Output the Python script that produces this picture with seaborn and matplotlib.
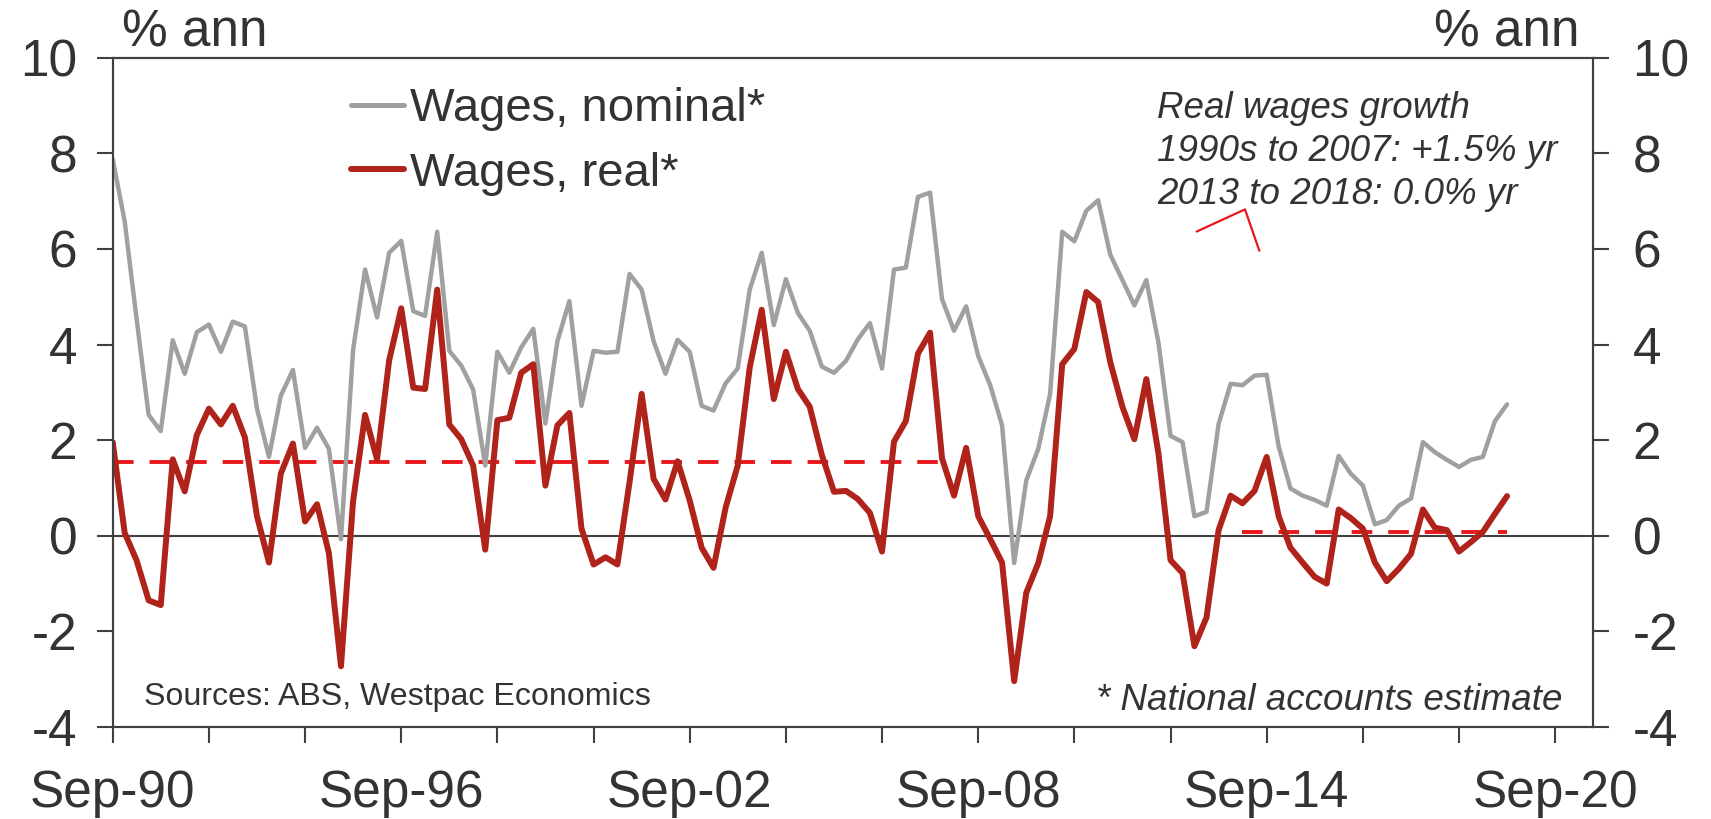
import matplotlib
matplotlib.use('Agg')
import matplotlib.pyplot as plt
import matplotlib.dates as mdates
from matplotlib.ticker import FuncFormatter
from matplotlib.lines import Line2D
import seaborn as sns
import pandas as pd

# wages growth, % annual, quarterly from Sep-90 to Sep-19
wages_nominal = [
    7.88, 6.58, 4.55, 2.53, 2.19, 4.09, 3.39, 4.26, 4.42, 3.85,
    4.48, 4.38, 2.66, 1.65, 2.93, 3.47, 1.84, 2.26, 1.82, -0.07,
    3.89, 5.57, 4.57, 5.92, 6.17, 4.70, 4.60, 6.36, 3.87, 3.56,
    3.06, 1.47, 3.85, 3.41, 3.94, 4.33, 2.35, 4.07, 4.91, 2.72,
    3.87, 3.83, 3.85, 5.48, 5.15, 4.07, 3.39, 4.10, 3.85, 2.72,
    2.62, 3.19, 3.50, 5.15, 5.92, 4.41, 5.37, 4.66, 4.29, 3.54,
    3.41, 3.66, 4.11, 4.45, 3.50, 5.57, 5.61, 7.09, 7.18, 4.95,
    4.29, 4.80, 3.76, 3.15, 2.31, -0.57, 1.16, 1.82, 2.97, 6.36,
    6.16, 6.80, 7.02, 5.88, 5.35, 4.82, 5.35, 4.04, 2.09, 1.96,
    0.41, 0.50, 2.34, 3.18, 3.15, 3.35, 3.37, 1.87, 0.99, 0.84,
    0.75, 0.63, 1.67, 1.30, 1.05, 0.24, 0.33, 0.63, 0.78, 1.96,
    1.75, 1.59, 1.44, 1.59, 1.65, 2.40, 2.75,
]
wages_real = [
    1.96, 0.06, -0.51, -1.35, -1.45, 1.60, 0.93, 2.11, 2.66, 2.33,
    2.72, 2.06, 0.41, -0.56, 1.30, 1.93, 0.30, 0.66, -0.36, -2.73,
    0.72, 2.53, 1.60, 3.67, 4.76, 3.10, 3.07, 5.15, 2.33, 2.02,
    1.47, -0.29, 2.42, 2.47, 3.41, 3.59, 1.05, 2.31, 2.57, 0.15,
    -0.60, -0.45, -0.60, 1.12, 2.97, 1.19, 0.76, 1.56, 0.74, -0.25,
    -0.67, 0.59, 1.47, 3.52, 4.73, 2.86, 3.85, 3.07, 2.70, 1.69,
    0.92, 0.94, 0.77, 0.48, -0.33, 1.97, 2.40, 3.81, 4.25, 1.62,
    0.84, 1.84, 0.41, -0.07, -0.56, -3.04, -1.19, -0.57, 0.41, 3.59,
    3.91, 5.10, 4.89, 3.63, 2.70, 2.02, 3.28, 1.72, -0.51, -0.78,
    -2.31, -1.71, 0.12, 0.84, 0.68, 0.94, 1.65, 0.41, -0.25, -0.56,
    -0.86, -1.00, 0.55, 0.37, 0.15, -0.56, -0.95, -0.69, -0.38, 0.55,
    0.17, 0.12, -0.33, -0.13, 0.08, 0.46, 0.83,
]

# average real wages growth over the two periods
avg_early = 1.55
avg_late = 0.07
early_end = '2007-12-01'
late_start = '2014-03-01'

y_ticks = [-4, -2, 0, 2, 4, 6, 8, 10]
label_years = [1990, 1996, 2002, 2008, 2014, 2020]

quarters = pd.date_range('1990-09-01', periods=len(wages_nominal), freq='3MS')
df = pd.DataFrame({'quarter': quarters, 'nominal': wages_nominal, 'real': wages_real})
early = df[df['quarter'] <= early_end]
late = df[df['quarter'] >= late_start]

sns.set_theme(style='white')
plt.rcParams['font.family'] = ['Liberation Sans', 'DejaVu Sans']
plt.rcParams['axes.unicode_minus'] = False

text_color = '#333333'
axis_color = '#404040'
gray = '#a0a0a0'
dark_red = '#b0231a'
bright_red = '#e8171c'

fig = plt.figure(figsize=(17.11, 8.19), dpi=100)
ax = fig.add_axes([0.06587, 0.11233, 0.86517, 0.8171])

# averages (dashed)
dash = (0, (5.3, 4.1))
sns.lineplot(x=early['quarter'], y=[avg_early] * len(early), ax=ax, color=bright_red,
             lw=2.8, linestyle=dash)
sns.lineplot(x=late['quarter'], y=[avg_late] * len(late), ax=ax, color=bright_red,
             lw=2.8, linestyle=dash)

ax.axhline(0, color=axis_color, lw=1.5, zorder=1)

sns.lineplot(data=df, x='quarter', y='nominal', ax=ax, color=gray, lw=3.2)
sns.lineplot(data=df, x='quarter', y='real', ax=ax, color=dark_red, lw=4.3)

ax.set_xlim(pd.Timestamp('1990-09-01'), pd.Timestamp('2021-06-15'))
ax.set_ylim(-4, 10)
ax.set_xlabel('')
ax.set_ylabel('')

# x axis: ticks every 2 years, labels every 6
ax.xaxis.set_major_locator(mdates.YearLocator(base=2, month=9, day=1))
ax.xaxis.set_major_formatter(FuncFormatter(
    lambda v, pos: mdates.num2date(v).strftime('%b-%y') if mdates.num2date(v).year in label_years else ''))
ax.tick_params(axis='x', direction='out', length=11.5, width=1.5, color=axis_color,
               labelsize=37, labelcolor=text_color, pad=19, bottom=True)

ax.set_yticks(y_ticks)
ax.set_yticklabels([f'{t:g}' for t in y_ticks])
ax.tick_params(axis='y', direction='out', length=11.5, width=1.5, color=axis_color,
               labelsize=37, labelcolor=text_color, pad=14, left=True)

ax2 = ax.twinx()
ax2.set_ylim(-4, 10)
ax2.set_yticks(y_ticks)
ax2.set_yticklabels([f'{t:g}' for t in y_ticks])
ax2.tick_params(axis='y', direction='out', length=11.5, width=1.5, color=axis_color,
                labelsize=37, labelcolor=text_color, pad=17, right=True)
ax2.grid(False)

for a in (ax, ax2):
    for side in a.spines.values():
        side.set_visible(True)
        side.set_color(axis_color)
        side.set_linewidth(1.5)

# legend
handles = [Line2D([], [], color=gray, lw=3.6), Line2D([], [], color=dark_red, lw=4.3)]
ax.legend(handles, ['Wages, nominal*', 'Wages, real*'], loc='upper left',
          bbox_to_anchor=(0.161, 0.956), frameon=False, fontsize=34, labelcolor=text_color,
          handlelength=1.12, handletextpad=0.13, labelspacing=0.43, borderpad=0, borderaxespad=0)

# texts
ax.text(0.0063, 1.0176, '% ann', transform=ax.transAxes, fontsize=37, color=text_color,
        ha='left', va='baseline')
ax.text(0.9912, 1.0176, '% ann', transform=ax.transAxes, fontsize=37, color=text_color,
        ha='right', va='baseline')
ax.text(0.7055, 0.781, 'Real wages growth\n1990s to 2007: +1.5% yr\n2013 to 2018: 0.0% yr',
        transform=ax.transAxes, fontsize=26.5, color=text_color, style='italic',
        ha='left', va='baseline', linespacing=1.3)
ax.text(0.0212, 0.0329, 'Sources: ABS, Westpac Economics', transform=ax.transAxes,
        fontsize=23.1, color=text_color, ha='left', va='baseline')
ax.text(0.9797, 0.0254, '* National accounts estimate', transform=ax.transAxes,
        fontsize=26.5, color=text_color, style='italic', ha='right', va='baseline')

# callout lines
ax.plot([0.7323, 0.7649, 0.7746], [0.7404, 0.7735, 0.7117], transform=ax.transAxes,
        color=bright_red, lw=1.6)

fig.savefig('out.png', dpi=100)
